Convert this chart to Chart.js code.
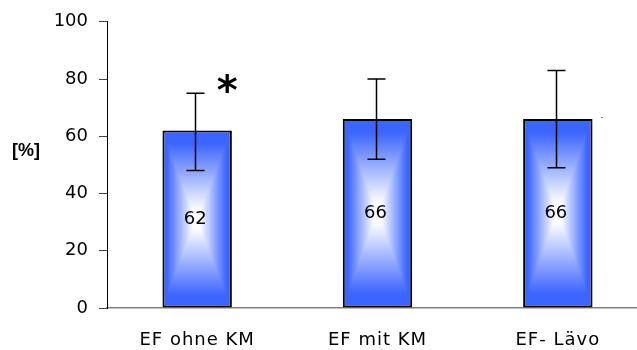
<!DOCTYPE html>
<html><head><meta charset="utf-8">
<script src="https://cdn.jsdelivr.net/npm/chart.js@4"></script>
<style>
html,body{margin:0;padding:0;overflow:hidden;background:#fff;}
canvas{display:block;}
</style></head><body>
<canvas id="c" width="648" height="350"></canvas>
<script>
const categories = ['EF ohne KM', 'EF mit KM', 'EF- Lävo'];
const values = [62, 66, 66];
const errLow = [48, 52, 49];
const errHigh = [75, 80, 83];
const yTicks = [0, 20, 40, 60, 80, 100];
const yTitle = '[%]';
const marks = ['*', '', '.'];
const markValues = [75, null, 66.5];

const EDGE = [60, 100, 255];

const fx = {
  id: 'fx',
  afterLayout(chart) {
    const xs = chart.scales.x;
    if (xs && !xs.__patched) {
      const orig = xs.drawLabels;
      xs.drawLabels = function (area) {
        const c = this.ctx;
        c.save();
        try { c.letterSpacing = '1px'; } catch (e) {}
        orig.call(this, area);
        c.restore();
      };
      xs.__patched = true;
    }
  },
  beforeDatasetsDraw(chart) {
    const meta = chart.getDatasetMeta(0);
    meta.data.forEach((el) => {
      const p = el.getProps(['x', 'y', 'base', 'width'], true);
      const left = Math.round(p.x - p.width / 2);
      const top = Math.round(Math.min(p.y, p.base));
      const w = Math.max(2, Math.round(p.width));
      const h = Math.max(2, Math.round(Math.abs(p.base - p.y)));
      const oc = document.createElement('canvas');
      oc.width = w; oc.height = h;
      const octx = oc.getContext('2d');
      const img = octx.createImageData(w, h);
      for (let yy = 0; yy < h; yy++) {
        for (let xx = 0; xx < w; xx++) {
          const tx = Math.abs(xx + 0.5 - w / 2) / (w / 2);
          const ty = Math.abs(yy + 0.5 - h / 2) / (h / 2);
          let t = Math.max(tx, ty);
          t = Math.min(1, Math.max(0, (t - 0.1) / 0.76));
          const k = (yy * w + xx) * 4;
          img.data[k] = Math.round(255 + (EDGE[0] - 255) * t);
          img.data[k + 1] = Math.round(255 + (EDGE[1] - 255) * t);
          img.data[k + 2] = Math.round(255 + (EDGE[2] - 255) * t);
          img.data[k + 3] = 255;
        }
      }
      octx.putImageData(img, 0, 0);
      const pat = chart.ctx.createPattern(oc, 'no-repeat');
      pat.setTransform(new DOMMatrix([1, 0, 0, 1, left, top]));
      el.options = Object.assign({}, el.options, { backgroundColor: pat });
    });
  },
  afterDatasetsDraw(chart) {
    const ctx = chart.ctx;
    const ys = chart.scales.y;
    const meta = chart.getDatasetMeta(0);
    ctx.save();
    ctx.strokeStyle = '#000';
    ctx.lineWidth = 1.5;
    meta.data.forEach((el, i) => {
      const x = Math.round(el.x) - 1.5;
      const yh = ys.getPixelForValue(errHigh[i]);
      const yl = ys.getPixelForValue(errLow[i]);
      ctx.beginPath();
      ctx.moveTo(x, yh); ctx.lineTo(x, yl);
      ctx.moveTo(x - 9, yh); ctx.lineTo(x + 9, yh);
      ctx.moveTo(x - 9, yl); ctx.lineTo(x + 9, yl);
      ctx.stroke();
    });
    ctx.fillStyle = '#000';
    ctx.font = '18px "DejaVu Sans"';
    ctx.textAlign = 'center';
    ctx.textBaseline = 'middle';
    meta.data.forEach((el, i) => {
      const y = ys.getPixelForValue(values[i] / 2);
      ctx.fillText(String(values[i]), el.x - 2, y);
    });
    meta.data.forEach((el, i) => {
      if (!marks[i] || markValues[i] == null) return;
      const yc = ys.getPixelForValue(markValues[i]);
      if (marks[i] === '*') {
        ctx.font = 'bold 40px "DejaVu Sans"';
        const m = ctx.measureText('*');
        ctx.textBaseline = 'alphabetic';
        const inkMid = (m.actualBoundingBoxAscent - m.actualBoundingBoxDescent) / 2;
        ctx.fillText('*', el.x + 30, yc + inkMid);
      } else {
        ctx.font = '9px "DejaVu Sans"';
        ctx.textBaseline = 'alphabetic';
        ctx.fillText(marks[i], el.x + 44, yc);
      }
    });
    ctx.restore();
  },
  afterDraw(chart) {
    const ctx = chart.ctx;
    const ys = chart.scales.y;
    ctx.save();
    ctx.fillStyle = '#000';
    ctx.font = 'bold 18px "Liberation Sans"';
    ctx.textAlign = 'center';
    ctx.textBaseline = 'middle';
    ctx.fillText(yTitle, 26, ys.getPixelForValue(55));
    ctx.restore();
  }
};

new Chart(document.getElementById('c'), {
  type: 'bar',
  data: {
    labels: categories,
    datasets: [{
      data: values,
      backgroundColor: 'rgb(60,100,255)',
      borderColor: '#000',
      borderWidth: 2,
      borderSkipped: false,
      categoryPercentage: 1,
      barPercentage: 0.385
    }]
  },
  options: {
    responsive: false,
    devicePixelRatio: 1,
    animation: false,
    layout: { padding: { top: 20, left: 0, right: 0, bottom: 0 } },
    plugins: { legend: { display: false }, tooltip: { enabled: false } },
    scales: {
      x: {
        grid: { display: true, drawOnChartArea: false, drawTicks: false },
        border: { display: true, color: '#808080', width: 1.5 },
        ticks: { color: '#000', font: { family: 'DejaVu Sans', size: 18 }, padding: 22, maxRotation: 0 },
        afterFit(s) { s.height = 42; }
      },
      y: {
        min: 0, max: 100,
        afterBuildTicks(s) { s.ticks = yTicks.map(v => ({ value: v })); },
        grid: { display: true, drawOnChartArea: false, drawTicks: true, tickLength: 8, color: '#444', lineWidth: 1 },
        border: { display: true, color: '#000', width: 1 },
        ticks: { color: '#000', font: { family: 'DejaVu Sans', size: 18 }, padding: 11 },
        afterFit(s) { s.width = 107; }
      }
    }
  },
  plugins: [fx]
});
</script>
</body></html>
